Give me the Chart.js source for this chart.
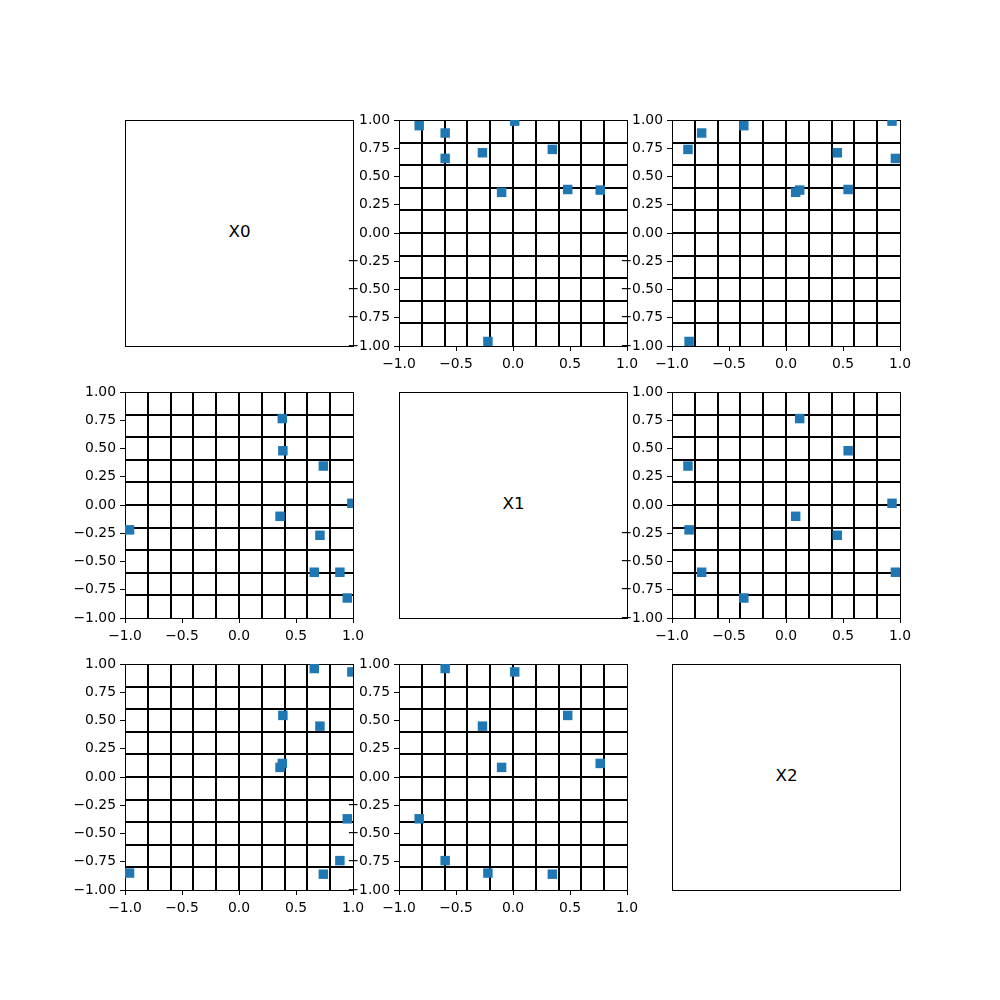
<!DOCTYPE html>
<html><head><meta charset="utf-8">
<script src="https://cdn.jsdelivr.net/npm/chart.js@4"></script>
<style>
html,body{margin:0;padding:0;background:#fff;}
#fig{position:relative;width:1000px;height:1000px;overflow:hidden;background:#fff;}
canvas{position:absolute;}
.diag{position:absolute;box-sizing:border-box;border:1px solid #000;display:flex;align-items:center;justify-content:center;font-family:'DejaVu Sans';font-size:16.7px;line-height:1;padding-bottom:4px;color:#000;}
</style></head><body><div id="fig"></div>
<script>
const varNames = ['X0', 'X1', 'X2'];
const X0 = [-0.96, 0.38, 0.385, 0.74, 0.99, 0.36, 0.71, 0.66, 0.885, 0.95];
const X1 = [-0.22, 0.765, 0.48, 0.345, 0.015, -0.10, -0.268, -0.595, -0.595, -0.823];
const X2 = [-0.85, 0.12, 0.545, -0.86, 0.93, 0.085, 0.45, 0.96, -0.74, -0.37];
const xTickValues = [-1, -0.5, 0, 0.5, 1];
const yTickValues = [-1, -0.75, -0.5, -0.25, 0, 0.25, 0.5, 0.75, 1];
const gridValues = [-0.8, -0.6, -0.4, -0.2, 0, 0.2, 0.4, 0.6, 0.8];

const series = [X0, X1, X2];
const fig = document.getElementById('fig');
const panelLeft = [125, 399, 672];
const panelTop = [120, 392, 664];
const W = 228, H = 226;
const font = {family: 'DejaVu Sans', size: 13.9};
const fmt = (v, d) => Number(v).toFixed(d).replace('-', '\u2212');

function makeDiag(i) {
  const d = document.createElement('div');
  d.className = 'diag';
  d.style.left = panelLeft[i] + 'px';
  d.style.top = panelTop[i] + 'px';
  d.style.width = (W + 1) + 'px';
  d.style.height = (H + 1) + 'px';
  d.textContent = varNames[i];
  fig.appendChild(d);
}

function makePanel(r, c) {
  const L = 62, T = 16, R = 26, B = 34;
  const canvas = document.createElement('canvas');
  const w = W + L + R, h = H + T + B;
  canvas.width = w; canvas.height = h;
  canvas.style.width = w + 'px'; canvas.style.height = h + 'px';
  canvas.style.left = (panelLeft[c] - L) + 'px';
  canvas.style.top = (panelTop[r] - T) + 'px';
  fig.appendChild(canvas);
  const xs = series[c], ys = series[r];
  new Chart(canvas, {
    type: 'scatter',
    data: {datasets: [{
      data: xs.map((x, i) => ({x: x, y: ys[i]})),
      backgroundColor: '#1f77b4', borderWidth: 0,
      pointStyle: 'rect', pointRadius: 6.7, pointHoverRadius: 6.7, clip: 0
    }]},
    options: {
      responsive: false, animation: false, devicePixelRatio: 1, events: [],
      layout: {padding: {top: T, right: R, left: 0, bottom: 0}},
      plugins: {legend: {display: false}, tooltip: {enabled: false}},
      scales: {
        x: {
          type: 'linear', position: 'bottom', min: -1, max: 1,
          afterBuildTicks: s => { s.ticks = xTickValues.map(v => ({value: v})); },
          afterFit: s => { s.height = B; },
          ticks: {callback: v => fmt(v, 1), font: font, color: '#000', padding: 5, maxRotation: 0, minRotation: 0, autoSkip: false},
          grid: {drawOnChartArea: false, drawTicks: true, tickLength: 5, color: '#000', lineWidth: 1},
          border: {display: true, color: '#000', width: 1}
        },
        y: {
          type: 'linear', position: 'left', min: -1, max: 1,
          afterBuildTicks: s => { s.ticks = yTickValues.map(v => ({value: v})); },
          afterFit: s => { s.width = L; },
          ticks: {callback: v => fmt(v, 2), font: font, color: '#000', padding: 4, autoSkip: false},
          grid: {drawOnChartArea: false, drawTicks: true, tickLength: 5, color: '#000', lineWidth: 1},
          border: {display: true, color: '#000', width: 1}
        },
        xg: {
          type: 'linear', position: 'top', min: -1, max: 1,
          afterBuildTicks: s => { s.ticks = gridValues.map(v => ({value: v})); },
          afterFit: s => { s.height = 0; },
          ticks: {display: false},
          grid: {drawOnChartArea: true, drawTicks: false, color: '#000', lineWidth: 2},
          border: {display: true, color: '#000', width: 1}
        },
        yg: {
          type: 'linear', position: 'right', min: -1, max: 1,
          afterBuildTicks: s => { s.ticks = gridValues.map(v => ({value: v})); },
          afterFit: s => { s.width = 0; },
          ticks: {display: false},
          grid: {drawOnChartArea: true, drawTicks: false, color: '#000', lineWidth: 2},
          border: {display: true, color: '#000', width: 1}
        }
      }
    }
  });
}

for (let r = 0; r < 3; r++) {
  for (let c = 0; c < 3; c++) {
    if (r === c) makeDiag(r); else makePanel(r, c);
  }
}
</script></body></html>
